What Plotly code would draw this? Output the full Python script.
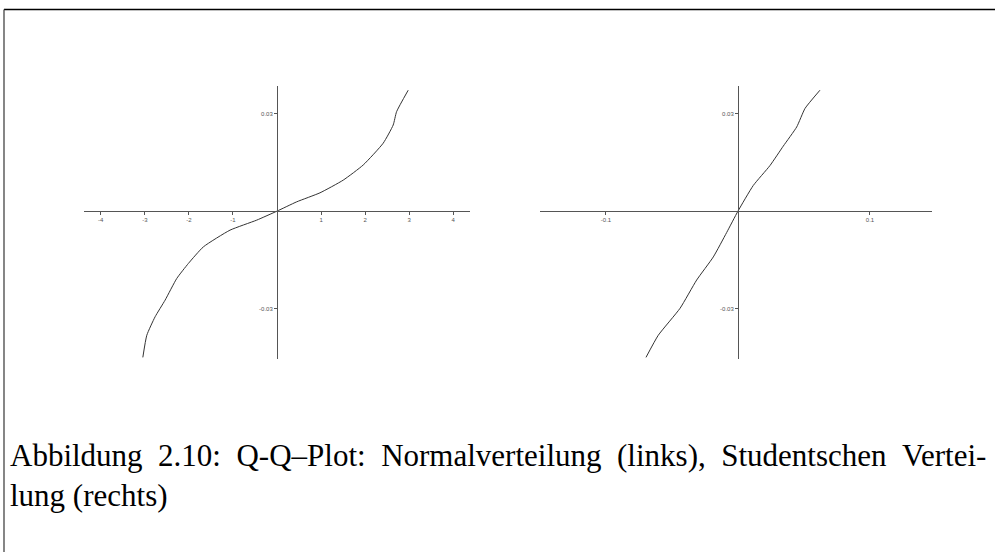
import plotly.graph_objects as go

# Q-Q plot data: sample quantiles against normal quantiles (left)
normal_theor = [-3.045, -2.955, -2.766, -2.540, -2.274, -2.011, -1.671, -1.066, -0.460, 0.0,
                0.447, 0.975, 1.503, 1.957, 2.410, 2.637, 2.714, 2.977]
normal_sample = [-0.0450, -0.0382, -0.0325, -0.0274, -0.0207, -0.0161, -0.0110, -0.00585, -0.00277, 0.0,
                 0.00286, 0.00563, 0.00954, 0.0142, 0.0209, 0.0265, 0.0306, 0.0372]

# sample quantiles against Student t quantiles (right)
t_theor = [-0.0697, -0.0604, -0.0439, -0.0313, -0.0187, -0.0086, 0.0,
           0.0116, 0.0242, 0.0343, 0.0445, 0.0508, 0.0621]
t_sample = [-0.0450, -0.0382, -0.0299, -0.0212, -0.0141, -0.00660, 0.0,
            0.00790, 0.0140, 0.0200, 0.0259, 0.0316, 0.0372]

left_xticks = [-4, -3, -2, -1, 1, 2, 3, 4]
left_xlabels = ["-4", "-3", "-2", "-1", "1", "2", "3", "4"]
right_xticks = [-0.1, 0.1]
right_xlabels = ["-0.1", "0.1"]
yticks = [-0.03, 0.03]
ylabels = ["-0.03", "0.03"]

# caption, first line justified with widened word gaps
caption_words1 = ["Abbildung", "2.10:", "Q-Q\u2013Plot:", "Normalverteilung", "(links),",
                  "Studentschen", "Vertei-"]
caption_line2 = "lung (rechts)"

W, H = 995, 552
left_xrange = [-4.38, 4.38]
right_xrange = [-0.15, 0.147]
yrange = [-0.0455, 0.0385]
left_dom = [84 / W, 470 / W]
right_dom = [540 / W, 932 / W]
ydom = [1 - 359 / H, 1 - 86 / H]


def zero_pos(rng, dom):
    frac = (0 - rng[0]) / (rng[1] - rng[0])
    return dom[0] + frac * (dom[1] - dom[0])


axis_col = "#555555"
tick_font = dict(family="Liberation Sans", size=6, color="#555555")
caption_font = dict(family="Liberation Serif", size=31, color="black")

fig = go.Figure()
fig.add_trace(go.Scatter(x=normal_theor, y=normal_sample, mode="lines",
                         line=dict(color="#333333", width=1, shape="spline", smoothing=0.5),
                         xaxis="x", yaxis="y", showlegend=False, hoverinfo="skip"))
fig.add_trace(go.Scatter(x=t_theor, y=t_sample, mode="lines",
                         line=dict(color="#333333", width=1, shape="spline", smoothing=0.5),
                         xaxis="x2", yaxis="y2", showlegend=False, hoverinfo="skip"))

common_x = dict(showgrid=False, zeroline=False, showline=True, linecolor=axis_col, linewidth=1,
                ticks="outside", ticklen=3, tickcolor=axis_col, tickfont=tick_font,
                anchor="free", fixedrange=True)
common_y = dict(showgrid=False, zeroline=False, showline=True, linecolor=axis_col, linewidth=1,
                ticks="outside", ticklen=3, tickcolor=axis_col, tickfont=tick_font,
                anchor="free", domain=ydom, range=yrange, fixedrange=True,
                tickvals=yticks, ticktext=ylabels)

xpos = zero_pos(yrange, ydom)

fig.update_layout(
    width=W, height=H,
    margin=dict(l=0, r=0, t=0, b=0),
    paper_bgcolor="white", plot_bgcolor="white",
    xaxis=dict(common_x, domain=left_dom, range=left_xrange, position=xpos,
               tickvals=left_xticks, ticktext=left_xlabels),
    yaxis=dict(common_y, position=zero_pos(left_xrange, left_dom)),
    xaxis2=dict(common_x, domain=right_dom, range=right_xrange, position=xpos,
                tickvals=right_xticks, ticktext=right_xlabels),
    yaxis2=dict(common_y, position=zero_pos(right_xrange, right_dom)),
    shapes=[
        dict(type="line", xref="paper", yref="paper", x0=4 / W, x1=1, y0=1 - 9.5 / H, y1=1 - 9.5 / H,
             line=dict(color="black", width=1.3)),
        dict(type="line", xref="paper", yref="paper", x0=4 / W, x1=4 / W, y0=0, y1=1 - 9.5 / H,
             line=dict(color="#444444", width=1.3)),
    ],
    annotations=[
        dict(text=" \u00a0".join(caption_words1), xref="paper", yref="paper", x=8 / W, y=1 - 455 / H,
             xanchor="left", yanchor="middle", showarrow=False, font=caption_font),
        dict(text=caption_line2, xref="paper", yref="paper", x=8 / W, y=1 - 495 / H,
             xanchor="left", yanchor="middle", showarrow=False, font=caption_font),
    ],
)

fig.write_html("out.html")
